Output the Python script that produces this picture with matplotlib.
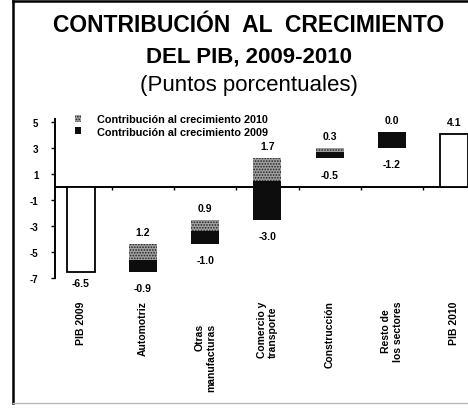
import numpy as np
import matplotlib
matplotlib.use("Agg")
import matplotlib.pyplot as plt
from matplotlib.patches import Patch
from matplotlib.lines import Line2D
from matplotlib.transforms import ScaledTranslation

plt.rcParams['font.family'] = ['Liberation Sans', 'DejaVu Sans']
plt.rcParams['hatch.linewidth'] = 0.8

# GDP growth and sector contributions (percentage points)
categories = ['PIB 2009', 'Automotriz', 'Otras\nmanufacturas', 'Comercio y\ntransporte',
              'Construcción', 'Resto de\nlos sectores', 'PIB 2010']
pib_2009 = -6.5
pib_2010 = 4.1
sectors = ['Automotriz', 'Otras manufacturas', 'Comercio y transporte', 'Construcción', 'Resto de los sectores']
contrib_2009 = [-0.9, -1.0, -3.0, -0.5, -1.2]
contrib_2010 = [1.2, 0.9, 1.7, 0.3, 0.0]

BLACK = '#0d0d0d'
GRAY = '#a0a0a0'
W = 0.45

fig = plt.figure(figsize=(4.68, 4.14), dpi=100)
ax = fig.add_axes([55 / 468, 1 - 279 / 414, 1 - 55 / 468, 158.6 / 414])

x = np.arange(len(categories))

# opening and closing totals
ax.bar(x[0], pib_2009, W, color='white', edgecolor='black', linewidth=1.3, zorder=3)
ax.bar(x[-1], pib_2010, W, color='white', edgecolor='black', linewidth=1.3, zorder=3)

lbl = dict(ha='center', fontsize=7.5, fontweight='bold', textcoords='offset points')
ax.annotate(f'{pib_2009:.1f}', (x[0], pib_2009), xytext=(0, -5), va='top', **lbl, annotation_clip=False)
ax.annotate(f'{pib_2010:.1f}', (x[-1], pib_2010), xytext=(0, 5), va='bottom', **lbl)

# sector steps: recovered 2009 loss (black) + 2010 contribution (dotted)
level = pib_2009
for i, (c9, c10) in enumerate(zip(contrib_2009, contrib_2010)):
    xi = x[i + 1]
    ax.bar(xi, abs(c9), W, bottom=level, color=BLACK, linewidth=0, zorder=3)
    top9 = level + abs(c9)
    ax.bar(xi, c10, W, bottom=top9, color=GRAY, edgecolor='#222222', hatch='......',
           linewidth=0, zorder=3)
    top10 = top9 + c10
    ax.annotate(f'{c9:.1f}', (xi, level), xytext=(0, -8), va='top', **lbl, annotation_clip=False)
    ax.annotate(f'{c10:.1f}', (xi, top10), xytext=(0, 5), va='bottom', **lbl)
    level = top10

# zero line with category separators
ax.axhline(0, color='black', linewidth=1.4, zorder=2)
ax.vlines(x[:-1] + 0.5, -0.22, 0, color='black', linewidth=1.0, zorder=2)

ax.set_xlim(-0.41, 6.22)
ax.set_ylim(-7.0, 5.2)
ax.set_yticks([5, 3, 1, -1, -3, -5, -7])
ax.set_yticklabels(['5', '3', '1', '-1', '-3', '-5', '-7'], fontsize=7, fontweight='bold')
ax.tick_params(axis='y', direction='out', length=3, width=1.0, pad=9)
for s in ['top', 'right', 'bottom']:
    ax.spines[s].set_visible(False)
ax.spines['left'].set_linewidth(1.4)

ax.set_xticks(x)
ax.set_xticklabels(categories, rotation=90, fontsize=7.5, fontweight='bold', va='top')
ax.tick_params(axis='x', length=0, pad=16)
ticks = ax.get_xticklabels()
ticks[2].set_multialignment('right')
ticks[2].set_transform(ticks[2].get_transform() + ScaledTranslation(0, -16 / 72, fig.dpi_scale_trans))
ticks[3].set_multialignment('left')

# legend
handles = [Patch(facecolor=GRAY, edgecolor='#222222', hatch='......', linewidth=0),
           Patch(facecolor=BLACK, linewidth=0)]
ax.legend(handles, ['Contribución al crecimiento 2010', 'Contribución al crecimiento 2009'],
          loc='upper left', bbox_to_anchor=(70 / 468, 1 - 110 / 414), bbox_transform=fig.transFigure,
          frameon=False, prop={'weight': 'bold', 'size': 7.8},
          handlelength=0.55, handleheight=0.55, handletextpad=1.4, labelspacing=0.2, borderpad=0)

# titles
fig.text(0.531, 1 - 25 / 414, 'CONTRIBUCIÓN  AL  CRECIMIENTO', ha='center', va='center',
         fontsize=16.5, fontweight='bold')
fig.text(0.531, 1 - 57 / 414, 'DEL PIB, 2009-2010', ha='center', va='center',
         fontsize=16, fontweight='bold')
fig.text(0.531, 1 - 86 / 414, '(Puntos porcentuales)', ha='center', va='center', fontsize=16)

# outer frame
fig.add_artist(Line2D([13 / 468, 13 / 468], [1 - 404 / 414, 1 - 2 / 414], color='black', linewidth=1.8,
                      transform=fig.transFigure))
fig.add_artist(Line2D([13 / 468, 1.0], [1 - 2 / 414, 1 - 2 / 414], color='black', linewidth=1.8,
                      transform=fig.transFigure))
fig.add_artist(Line2D([13 / 468, 1.0], [1 - 404 / 414, 1 - 404 / 414], color='#bbbbbb', linewidth=1.0,
                      transform=fig.transFigure))

fig.savefig('out.png', dpi=100, facecolor='white')
